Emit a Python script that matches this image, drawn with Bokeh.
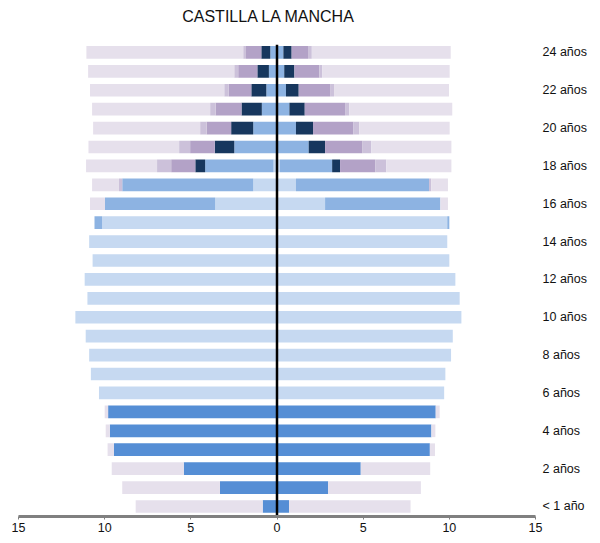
from bokeh.plotting import figure
from bokeh.models import ColumnDataSource, FixedTicker, Label
from bokeh.embed import file_html
from bokeh.resources import INLINE

ages = list(range(25))
age_ticks = list(range(0, 25, 2))
age_tick_labels = ["< 1 año"] + [f"{a} años" for a in range(2, 25, 2)]
x_ticks = [-15, -10, -5, 0, 5, 10, 15]
x_tick_labels = ["15", "10", "5", "0", "5", "10", "15"]
title_text = "CASTILLA LA MANCHA"

categories = ["inf", "prim", "eso", "bach", "purple", "lilac", "lav"]
colors = ["#558ED5", "#C6D9F1", "#8DB3E2", "#17375E", "#B3A2C7", "#CCC1DA", "#E6E0EC"]

# left side (absolute values), rows: <1 año ... 24 años
left_inf = [0.83, 3.31, 5.41, 9.46, 9.70, 9.80, 0, 0, 0, 0, 0, 0, 0, 0, 0, 0, 0, 0, 0, 0, 0, 0, 0, 0, 0]
left_prim = [0, 0, 0, 0, 0, 0, 10.33, 10.8, 10.9, 11.1, 11.7, 11.0, 11.16, 10.7, 10.9, 10.15, 3.59, 1.38, 0.2, 0, 0, 0, 0, 0, 0]
left_eso = [0, 0, 0, 0, 0, 0, 0, 0, 0, 0, 0, 0, 0, 0, 0, 0.44, 6.39, 7.6, 3.97, 2.48, 1.38, 0.88, 0.62, 0.47, 0.39]
left_bach = [0, 0, 0, 0, 0, 0, 0, 0, 0, 0, 0, 0, 0, 0, 0, 0, 0, 0, 0.57, 1.13, 1.28, 1.18, 0.87, 0.67, 0.52]
left_purple = [0, 0, 0, 0, 0, 0, 0, 0, 0, 0, 0, 0, 0, 0, 0, 0, 0, 0, 1.40, 1.43, 1.42, 1.50, 1.31, 1.11, 0.89]
left_lilac = [0, 0, 0, 0, 0, 0, 0, 0, 0, 0, 0, 0, 0, 0, 0, 0, 0, 0.19, 0.82, 0.64, 0.38, 0.32, 0.26, 0.23, 0.16]
left_lav = [7.37, 5.67, 4.18, 0.37, 0.24, 0.20, 0, 0, 0, 0, 0, 0, 0, 0, 0, 0, 0.87, 1.56, 4.12, 5.26, 6.21, 6.85, 7.79, 8.48, 9.10]

# right side
right_inf = [0.70, 2.97, 4.86, 8.87, 8.96, 9.21, 0, 0, 0, 0, 0, 0, 0, 0, 0, 0, 0, 0, 0, 0, 0, 0, 0, 0, 0]
right_prim = [0, 0, 0, 0, 0, 0, 9.7, 9.77, 10.1, 10.2, 10.7, 10.6, 10.35, 10.0, 9.88, 9.88, 2.79, 1.10, 0.17, 0, 0, 0, 0, 0, 0]
right_eso = [0, 0, 0, 0, 0, 0, 0, 0, 0, 0, 0, 0, 0, 0, 0, 0.12, 6.69, 7.72, 3.03, 1.84, 1.10, 0.72, 0.52, 0.42, 0.37]
right_bach = [0, 0, 0, 0, 0, 0, 0, 0, 0, 0, 0, 0, 0, 0, 0, 0, 0, 0, 0.46, 0.95, 0.99, 0.89, 0.74, 0.59, 0.48]
right_purple = [0, 0, 0, 0, 0, 0, 0, 0, 0, 0, 0, 0, 0, 0, 0, 0, 0, 0, 2.04, 2.15, 2.33, 2.34, 1.82, 1.45, 0.95]
right_lilac = [0, 0, 0, 0, 0, 0, 0, 0, 0, 0, 0, 0, 0, 0, 0, 0, 0, 0.13, 0.64, 0.53, 0.35, 0.24, 0.23, 0.16, 0.22]
right_lav = [7.05, 5.38, 4.03, 0.30, 0.23, 0.23, 0, 0, 0, 0, 0, 0, 0, 0, 0, 0, 0.44, 0.97, 3.78, 4.65, 5.25, 5.98, 6.67, 7.40, 8.06]

left = [left_inf, left_prim, left_eso, left_bach, left_purple, left_lilac, left_lav]
right = [right_inf, right_prim, right_eso, right_bach, right_purple, right_lilac, right_lav]

data = {"age": ages}
for c, vals in zip(categories, left):
    data["L_" + c] = [-v for v in vals]
for c, vals in zip(categories, right):
    data["R_" + c] = list(vals)
src = ColumnDataSource(data)

FONT = "Liberation Sans"
ROW_PX = 18.92
Y_BOTTOM = -0.53
FRAME_H = 516
Y_TOP = Y_BOTTOM + FRAME_H / ROW_PX

p = figure(frame_width=517, frame_height=FRAME_H, x_range=(-15, 15), y_range=(Y_BOTTOM, Y_TOP),
           output_backend="svg", toolbar_location=None, y_axis_location="right",
           min_border_left=18, min_border_right=0, min_border_top=0, min_border_bottom=0)
p.outline_line_color = None
p.grid.visible = False
p.background_fill_color = "white"

p.hbar_stack(["L_" + c for c in categories], y="age", height=0.67, color=colors, source=src, line_color=None)
p.hbar_stack(["R_" + c for c in categories], y="age", height=0.67, color=colors, source=src, line_color=None)

# zero line from the axis up to just above the top bar
p.segment(x0=[0], y0=[Y_BOTTOM], x1=[0], y1=[max(ages) + 0.4], line_color="black", line_width=2.5)

title = Label(x=-5.5, y=Y_TOP - 16 / ROW_PX, text=title_text, text_font=FONT, text_font_size="16px",
              text_color="#111111", text_align="left", text_baseline="middle")
p.add_layout(title)

xa = p.xaxis[0]
xa.ticker = FixedTicker(ticks=x_ticks)
xa.major_label_overrides = dict(zip(x_ticks, x_tick_labels))
xa.axis_line_color = "#808080"
xa.axis_line_width = 3
xa.major_tick_line_color = "#808080"
xa.major_tick_out = 3
xa.major_tick_in = 0
xa.minor_tick_line_color = None
xa.major_label_standoff = 3
xa.major_label_text_font = FONT
xa.major_label_text_font_size = "12.5px"
xa.major_label_text_color = "#111111"

ya = p.yaxis[0]
ya.ticker = FixedTicker(ticks=age_ticks)
ya.major_label_overrides = dict(zip(age_ticks, age_tick_labels))
ya.axis_line_color = None
ya.major_tick_line_color = None
ya.minor_tick_line_color = None
ya.major_tick_out = 0
ya.major_tick_in = 0
ya.major_label_standoff = 7
ya.major_label_text_font = FONT
ya.major_label_text_font_size = "12.5px"
ya.major_label_text_color = "#111111"

open("out.html", "w").write(file_html(p, INLINE))
